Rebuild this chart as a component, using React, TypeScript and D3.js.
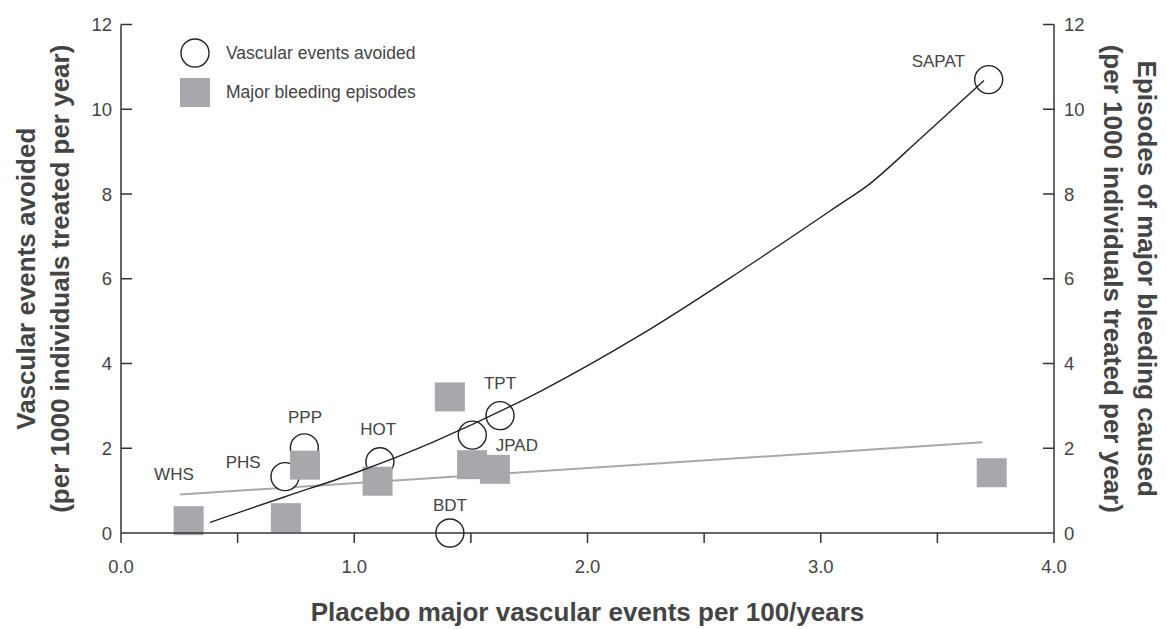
import React from "react";
import * as d3 from "d3";

const studies = ["WHS", "PHS", "PPP", "HOT", "BDT", "TPT", "JPAD", "SAPAT"];

// Vascular events avoided (circles): [placebo rate, events avoided]
const avoidedX = [0.703, 0.786, 1.11, 1.41, 1.506, 1.625, 3.72];
const avoidedY = [1.33, 2.01, 1.68, 0.0, 2.31, 2.77, 10.7];

// Major bleeding episodes (squares)
const bleedX = [0.29, 0.707, 0.789, 1.1, 1.41, 1.505, 1.603, 3.733];
const bleedY = [0.28, 0.35, 1.59, 1.21, 3.2, 1.6, 1.49, 1.41];

// Fitted curve for vascular events avoided
const curveX = [0.382, 0.7, 1.0, 1.34, 1.8, 2.22, 2.65, 3.08, 3.21, 3.43, 3.7];
const curveY = [0.25, 0.85, 1.41, 2.15, 3.35, 4.65, 6.16, 7.75, 8.24, 9.32, 10.68];

// Linear trend for bleeding
const bleedLineX = [0.253, 3.693];
const bleedLineY = [0.91, 2.14];

// Study label anchors (data units)
const labelX = [0.227, 0.524, 0.789, 1.103, 1.41, 1.625, 1.697, 3.504];
const labelY = [1.39, 1.66, 2.73, 2.45, 0.64, 3.53, 2.06, 11.12];

const xTicksMajor = [0, 1, 2, 3, 4];
const xTicksMinor = [0.5, 1.5, 2.5, 3.5];
const yTicks = [0, 2, 4, 6, 8, 10, 12];

const W = 1167;
const H = 629;
const left = 121;
const right = 1054;
const top = 24.5;
const bottom = 533;

const TEXT = "#444";
const AXIS = "#333";
const GREY = "#a7a8ab";
const FONT = "'Liberation Sans', Arial, Helvetica, sans-serif";

export default function App() {
  const x = d3.scaleLinear().domain([0, 4]).range([left, right]);
  const y = d3.scaleLinear().domain([0, 12]).range([bottom, top]);

  const curvePts: [number, number][] = curveX.map((v, i) => [v, curveY[i]]);
  const curvePath = d3
    .line<[number, number]>()
    .x((d) => x(d[0]))
    .y((d) => y(d[1]))
    .curve(d3.curveCatmullRom.alpha(0.5))(curvePts) as string;

  const bleedPts: [number, number][] = bleedLineX.map((v, i) => [v, bleedLineY[i]]);
  const bleedPath = d3
    .line<[number, number]>()
    .x((d) => x(d[0]))
    .y((d) => y(d[1]))(bleedPts) as string;

  const r = 14;
  const sq = 30;
  const midY = (top + bottom) / 2;

  return (
    <svg
      width={W}
      height={H}
      style={{ position: "absolute", left: 0, top: 0, background: "#fff" }}
      fontFamily={FONT}
    >
      {/* bleeding trend line */}
      <path d={bleedPath} fill="none" stroke="#a9a9ab" strokeWidth={2} />

      {/* circles */}
      {avoidedX.map((v, i) => (
        <circle
          key={"c" + i}
          cx={x(v)}
          cy={y(avoidedY[i])}
          r={r}
          fill="#fff"
          stroke="#222"
          strokeWidth={1.4}
        />
      ))}

      {/* squares */}
      {bleedX.map((v, i) => (
        <rect
          key={"s" + i}
          x={x(v) - sq / 2}
          y={y(bleedY[i]) - sq / 2}
          width={sq}
          height={sq - 1}
          fill={GREY}
        />
      ))}

      {/* fitted curve */}
      <path d={curvePath} fill="none" stroke="#222" strokeWidth={1.4} />

      {/* study labels */}
      {studies.map((s, i) => (
        <text
          key={"l" + i}
          x={x(labelX[i])}
          y={y(labelY[i])}
          textAnchor="middle"
          dominantBaseline="central"
          fontSize={17}
          fill={TEXT}
        >
          {s}
        </text>
      ))}

      {/* axes */}
      <line x1={left} x2={right} y1={bottom} y2={bottom} stroke={AXIS} strokeWidth={1.5} />
      <line x1={left} x2={left} y1={top} y2={bottom + 10} stroke={AXIS} strokeWidth={1.5} />
      <line x1={right} x2={right} y1={top} y2={bottom + 10} stroke={AXIS} strokeWidth={1.5} />

      {xTicksMinor.concat(xTicksMajor.filter((t) => t > 0 && t < 4)).map((t) => (
        <line key={"xt" + t} x1={x(t)} x2={x(t)} y1={bottom} y2={bottom + 10} stroke={AXIS} strokeWidth={1.5} />
      ))}
      {xTicksMajor.map((t) => (
        <text key={"xl" + t} x={x(t)} y={573} textAnchor="middle" fontSize={18.5} fill={TEXT}>
          {t.toFixed(1)}
        </text>
      ))}

      {yTicks.map((t) => (
        <g key={"yt" + t}>
          {t > 0 && (
            <line x1={left} x2={left + 11} y1={y(t)} y2={y(t)} stroke={AXIS} strokeWidth={1.5} />
          )}
          {t > 0 && (
            <line x1={right - 11} x2={right} y1={y(t)} y2={y(t)} stroke={AXIS} strokeWidth={1.5} />
          )}
          <text x={112} y={y(t)} textAnchor="end" dominantBaseline="central" fontSize={18.5} fill={TEXT}>
            {t}
          </text>
          <text x={1064} y={y(t)} textAnchor="start" dominantBaseline="central" fontSize={18.5} fill={TEXT}>
            {t}
          </text>
        </g>
      ))}

      {/* axis titles */}
      <text
        x={(left + right) / 2}
        y={621}
        textAnchor="middle"
        fontSize={26}
        fontWeight="bold"
        fill={TEXT}
      >
        Placebo major vascular events per 100/years
      </text>
      <g transform={`translate(35, ${midY}) rotate(-90)`}>
        <text x={0} y={0} textAnchor="middle" fontSize={26} fontWeight="bold" fill={TEXT}>
          Vascular events avoided
        </text>
      </g>
      <g transform={`translate(69, ${midY}) rotate(-90)`}>
        <text x={0} y={0} textAnchor="middle" fontSize={26} fontWeight="bold" fill={TEXT}>
          (per 1000 individuals treated per year)
        </text>
      </g>
      <g transform={`translate(1138, ${midY}) rotate(90)`}>
        <text x={0} y={0} textAnchor="middle" fontSize={26} fontWeight="bold" fill={TEXT}>
          Episodes of major bleeding caused
        </text>
      </g>
      <g transform={`translate(1104, ${midY}) rotate(90)`}>
        <text x={0} y={0} textAnchor="middle" fontSize={26} fontWeight="bold" fill={TEXT}>
          (per 1000 individuals treated per year)
        </text>
      </g>

      {/* legend */}
      <circle cx={195} cy={53} r={r} fill="#fff" stroke="#222" strokeWidth={1.4} />
      <text x={226} y={53} dominantBaseline="central" fontSize={17.5} fill={TEXT}>
        Vascular events avoided
      </text>
      <rect x={180} y={78} width={30} height={29} fill={GREY} />
      <text x={226} y={92} dominantBaseline="central" fontSize={17.5} fill={TEXT}>
        Major bleeding episodes
      </text>
    </svg>
  );
}
